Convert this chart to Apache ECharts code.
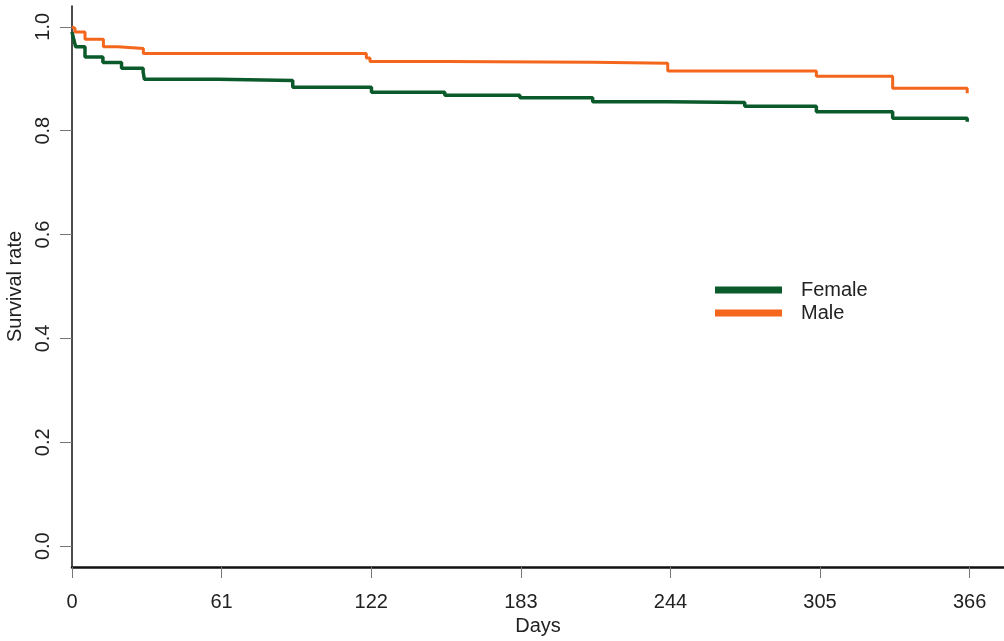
<!DOCTYPE html>
<html>
<head>
<meta charset="utf-8">
<script src="https://cdn.jsdelivr.net/npm/echarts@6/dist/echarts.min.js"></script>
<style>
html,body{margin:0;padding:0;background:#fff;}
#chart{width:1004px;height:641px;}
</style>
</head>
<body>
<div id="chart"></div>
<script>
// Data (Kaplan-Meier style step curves)
const femaleDays = [0, 0.8, 1.5, 5.3, 12.6, 20.2, 29, 29.5, 59.5, 90, 122.1, 152, 182.6, 212.3, 242.9, 274.3, 303.5, 334.6, 365];
const femaleSurv = [0.99, 0.974, 0.9615, 0.942, 0.931, 0.92, 0.913, 0.899, 0.8965, 0.8835, 0.874, 0.868, 0.8635, 0.8558, 0.8542, 0.847, 0.8365, 0.8238, 0.8173];
const maleDays = [0, 0.8, 1.2, 5.3, 12.8, 18.7, 29.1, 120, 121.5, 152, 212.3, 242.9, 303.5, 334.6, 365];
const maleSurv = [1.0, 0.997, 0.99, 0.976, 0.9615, 0.958, 0.9485, 0.94, 0.933, 0.9315, 0.9296, 0.9148, 0.905, 0.8815, 0.872];
const xTicks = [0, 61, 122, 183, 244, 305, 366];
const yTicks = [0, 0.2, 0.4, 0.6, 0.8, 1.0];
const seriesNames = ['Female', 'Male'];

const toPairs = (xs, ys) => xs.map((x, i) => [x, ys[i]]);
const FONT = 'Liberation Sans, Arial, sans-serif';
const GREEN = '#0b5a2b';
const ORANGE = '#f4661c';

const chart = echarts.init(document.getElementById('chart'), null, {renderer: 'canvas'});
chart.setOption({
  animation: false,
  backgroundColor: '#ffffff',
  grid: {left: 72, right: 0, top: 6, bottom: 74, containLabel: false, outerBoundsMode: 'none'},
  legend: {
    data: seriesNames,
    orient: 'vertical',
    left: 715,
    top: 280,
    padding: 0,
    itemWidth: 67,
    itemHeight: 7,
    itemGap: 3,
    icon: 'rect',
    textStyle: {fontFamily: FONT, fontSize: 20, color: '#222', padding: [0, 0, 0, 14]}
  },
  xAxis: {
    type: 'value',
    min: 0,
    max: 380,
    name: 'Days',
    nameLocation: 'middle',
    nameGap: 48,
    nameTextStyle: {fontFamily: FONT, fontSize: 20, color: '#222'},
    axisLine: {show: true, onZero: false, lineStyle: {color: '#111', width: 2.5}},
    axisTick: {show: true, length: 11, customValues: xTicks, lineStyle: {color: '#777', width: 1}},
    axisLabel: {customValues: xTicks, margin: 25, fontFamily: FONT, fontSize: 20, color: '#222'},
    splitLine: {show: false}
  },
  yAxis: {
    type: 'value',
    min: -0.04,
    max: 1.04,
    name: 'Survival rate',
    nameLocation: 'middle',
    nameRotate: 90,
    nameGap: 41,
    nameTextStyle: {fontFamily: FONT, fontSize: 20, color: '#222'},
    axisLine: {show: true, onZero: false, lineStyle: {color: '#111', width: 1.5}},
    axisTick: {show: true, length: 12, customValues: yTicks, lineStyle: {color: '#777', width: 1}},
    axisLabel: {
      customValues: yTicks, rotate: 90, margin: 19,
      fontFamily: FONT, fontSize: 20, color: '#222',
      formatter: v => Number(v).toFixed(1)
    },
    splitLine: {show: false}
  },
  series: [
    {
      name: seriesNames[0], type: 'line', step: 'end', showSymbol: false,
      color: GREEN, lineStyle: {color: GREEN, width: 3.5},
      data: toPairs(femaleDays, femaleSurv), z: 3
    },
    {
      name: seriesNames[1], type: 'line', step: 'end', showSymbol: false,
      color: ORANGE, lineStyle: {color: ORANGE, width: 3},
      data: toPairs(maleDays, maleSurv), z: 4
    }
  ]
});
</script>
</body>
</html>
